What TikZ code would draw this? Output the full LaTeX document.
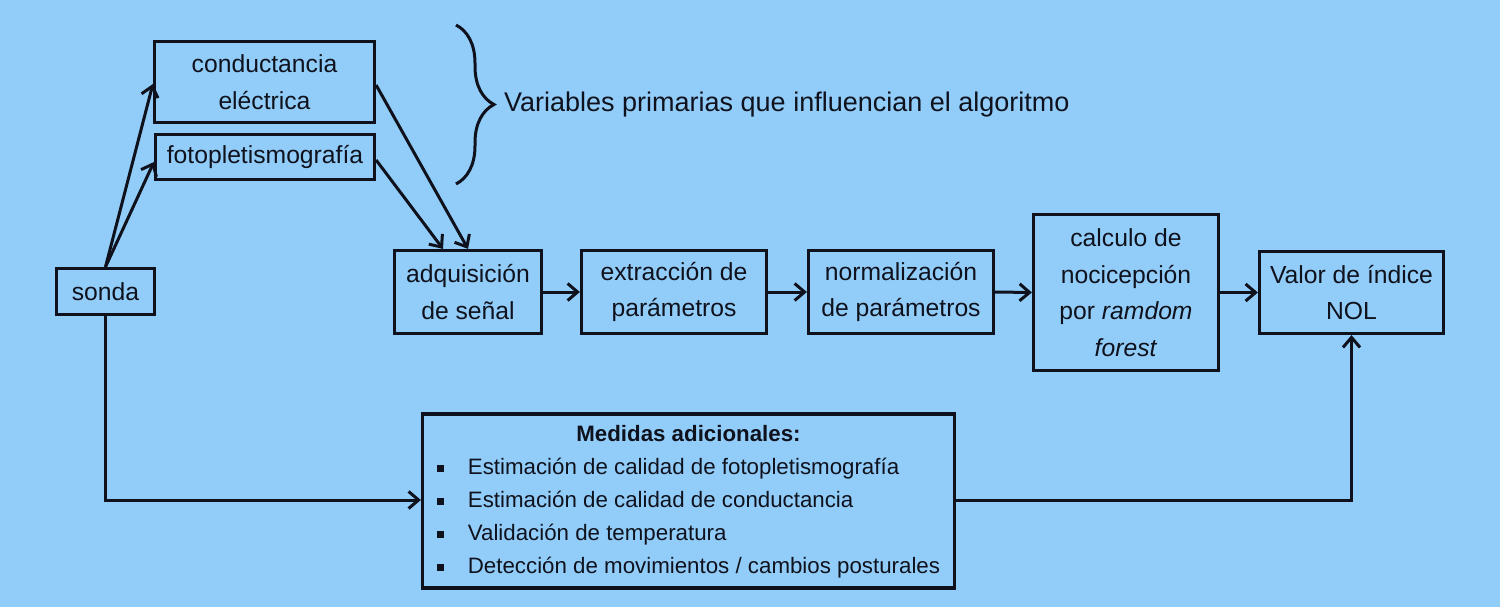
\documentclass[tikz,border=0pt]{standalone}
\usepackage{fontspec}
\setmainfont{Liberation Sans}
\usetikzlibrary{arrows.meta,decorations.pathreplacing,calc}
\definecolor{bg}{RGB}{146,205,250}
\definecolor{ink}{RGB}{15,18,28}
\newcommand{\blt}{\rule[2.5pt]{7pt}{7pt}}
\begin{document}
\begin{tikzpicture}[x=1pt,y=-1pt,
  box/.style={draw=ink, line width=3.2pt, fill=bg, text=ink, align=center, inner sep=0pt,
    font=\fontsize{24.7}{36.5}\selectfont},
  arr/.style={draw=ink, line width=3pt, -{Straight Barb[length=10pt,width=17pt,line width=3pt]}},
  note/.style={text=ink, inner sep=0pt, font=\fontsize{27}{32}\selectfont}
  ]
\fill[bg] (0,0) rectangle (1500,607);
\useasboundingbox (0,0) rectangle (1500,607);

\node[box, minimum width=98, minimum height=46] (sonda) at (105.5,291.5) {sonda};
\node[box, minimum width=220, minimum height=81] (cond) at (264.5,82) {conductancia\\eléctrica};
\node[box, minimum width=219, minimum height=45] (foto) at (265,157) {fotopletismografía};
\node[box, minimum width=147, minimum height=83] (adq) at (468,292) {adquisición\\de señal};
\node[box, minimum width=185, minimum height=83] (ext) at (674,292) {extracción de\\parámetros};
\node[box, minimum width=185, minimum height=83] (norm) at (901,292) {normalización\\de parámetros};
\node[box, minimum width=185, minimum height=156] (calc) at (1126,292.5) {calculo de\\nocicepción\\por \textit{ramdom}\\\textit{forest}};
\node[box, minimum width=184, minimum height=82] (valor) at (1351.5,292.5) {Valor de índice\\NOL};
\node[box, minimum width=532, minimum height=174, font=\fontsize{22.3}{33}\selectfont] (med) at (688.5,501) {%
  \begin{tabular}{@{}c@{\hspace{24pt}}l@{}}
  \multicolumn{2}{@{}c@{}}{\textbf{Medidas adicionales:}}\\
  \blt & Estimación de calidad de fotopletismografía\\
  \blt & Estimación de calidad de conductancia\\
  \blt & Validación de temperatura\\
  \blt & Detección de movimientos / cambios posturales
  \end{tabular}};

\draw[ink, line width=3pt, decorate, decoration={brace, amplitude=38pt}] (456,25) -- (456,184);
\node[note, anchor=west] (vars) at (504,105) {Variables primarias que influencian el algoritmo};

\draw[arr] (sonda.north) -- ([yshift=-2pt]cond.west);
\draw[arr] (sonda.north) -- ([yshift=-5pt]foto.west);
\draw[arr] ([yshift=-3pt]cond.east) -- (adq.north);
\draw[arr] ([yshift=-3pt]foto.east) -- ([xshift=-25pt]adq.north);
\draw[arr] (adq.east) -- (ext.west);
\draw[arr] (ext.east) -- (norm.west);
\draw[arr] (norm.east) -- (calc.west);
\draw[arr] (calc.east) -- (valor.west);
\draw[arr] (sonda.south) |- ([yshift=1pt]med.west);
\draw[arr] ([yshift=1pt]med.east) -| (valor.south);
\end{tikzpicture}
\end{document}
